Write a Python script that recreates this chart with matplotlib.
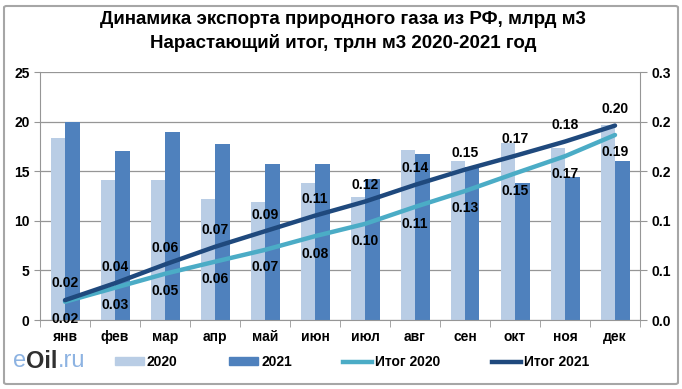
import matplotlib.pyplot as plt
import numpy as np
from matplotlib.patches import FancyBboxPatch
from matplotlib.lines import Line2D
from matplotlib.patches import Patch

months = ['янв', 'фев', 'мар', 'апр', 'май', 'июн', 'июл', 'авг', 'сен', 'окт', 'ноя', 'дек']
exp2020 = [18.35, 14.1, 14.1, 12.15, 11.9, 13.8, 12.35, 17.13, 16.05, 17.8, 17.3, 19.67]
exp2021 = [20.0, 17.06, 18.96, 17.75, 15.72, 15.72, 14.23, 16.73, 15.45, 13.83, 14.37, 16.05]
itog2020 = [0.0184, 0.0325, 0.0466, 0.0588, 0.0707, 0.0845, 0.0969, 0.1140, 0.1300, 0.1478, 0.1651, 0.1865]
itog2021 = [0.0200, 0.0371, 0.0560, 0.0738, 0.0895, 0.1052, 0.1194, 0.1362, 0.1516, 0.1655, 0.1799, 0.1960]
right_ticklabels = ['0.0', '0.1', '0.1', '0.2', '0.2', '0.3']

c20 = '#b9cde5'
c21 = '#4f81bd'
cl20 = '#4bacc6'
cl21 = '#1f497d'
plt.rcParams['font.family'] = ['Liberation Sans', 'DejaVu Sans']

fig = plt.figure(figsize=(6.82, 3.89), dpi=100)
fig.patches.append(FancyBboxPatch((4/682, 5/389), 674/682, 378/389, boxstyle='round,pad=0,rounding_size=0.004',
                                  transform=fig.transFigure, fill=False, ec='#a6a6a6', lw=1.5))
ax = fig.add_axes([40/682, 1-320/389, 600/682, 248/389])
x = np.arange(len(months))
w = 0.29
ax.bar(x - w/2, exp2020, w, color=c20, zorder=2)
ax.bar(x + w/2, exp2021, w, color=c21, zorder=2)
ax.set_xlim(-0.5, 11.5)
ax.set_ylim(0, 25)
ax.set_yticks(range(0, 26, 5))
ax.grid(axis='y', color='#969696', lw=0.9, zorder=0)
ax.set_xticks(x)
ax.set_xticklabels(months, fontsize=10, fontweight='bold')
ax.set_xticks(np.arange(-0.5, 12, 1), minor=True)
ax.tick_params(axis='x', which='major', length=0, pad=7)
ax.tick_params(axis='x', which='minor', length=5, color='#969696')
ax.tick_params(axis='y', length=4, color='#969696', labelsize=10)
for lab in ax.get_yticklabels():
    lab.set_fontweight('bold')
for s in ['top', 'right']:
    ax.spines[s].set_visible(False)
for s in ['left', 'bottom']:
    ax.spines[s].set_color('#969696')

ax2 = ax.twinx()
ax2.set_ylim(0, 0.25)
ax2.set_yticks(np.arange(0, 0.26, 0.05))
ax2.set_yticklabels(right_ticklabels, fontsize=10, fontweight='bold')
ax2.tick_params(axis='y', length=5, color='#969696')
for s in ['top', 'left', 'bottom']:
    ax2.spines[s].set_visible(False)
ax2.spines['right'].set_color('#969696')
ax2.plot(x, itog2020, color=cl20, lw=3.2, solid_capstyle='round', zorder=3)
ax2.plot(x, itog2021, color=cl21, lw=3.2, solid_capstyle='round', zorder=4)
for i in range(len(months)):
    ax2.annotate(f'{itog2021[i]:.2f}', (x[i], itog2021[i]), xytext=(0, 12), textcoords='offset points',
                 ha='center', va='center', fontsize=10, fontweight='bold')
    ax2.annotate(f'{itog2020[i]:.2f}', (x[i], itog2020[i]), xytext=(0, -12.5), textcoords='offset points',
                 ha='center', va='center', fontsize=10, fontweight='bold')

fig.text(343/682, 1-20/389, 'Динамика экспорта природного газа из РФ, млрд м3', ha='center', va='center',
         fontsize=13.5, fontweight='bold')
fig.text(343/682, 1-43/389, 'Нарастающий итог, трлн м3 2020-2021 год', ha='center', va='center',
         fontsize=13.5, fontweight='bold')

handles = [Patch(color=c20), Patch(color=c21), Line2D([], [], color=cl20, lw=3.2), Line2D([], [], color=cl21, lw=3.2)]
fig.legend(handles, ['2020', '2021', 'Итог 2020', 'Итог 2021'], ncol=4, loc='center',
           bbox_to_anchor=(352/682, 1-362/389), frameon=False, prop={'size': 10, 'weight': 'bold'},
           handlelength=2.1, handleheight=0.5, handletextpad=0.2, columnspacing=3.7)

# logo
fig.text(13/682, 1-361/389, 'e', color='#8db3e2', fontsize=17, va='center')
fig.text(26/682, 1-361/389, 'Oil', color='#303030', fontsize=17, va='center', fontweight='bold')
fig.text(58/682, 1-361/389, '.ru', color='#8db3e2', fontsize=17, va='center')

fig.savefig('out.png', dpi=100)
